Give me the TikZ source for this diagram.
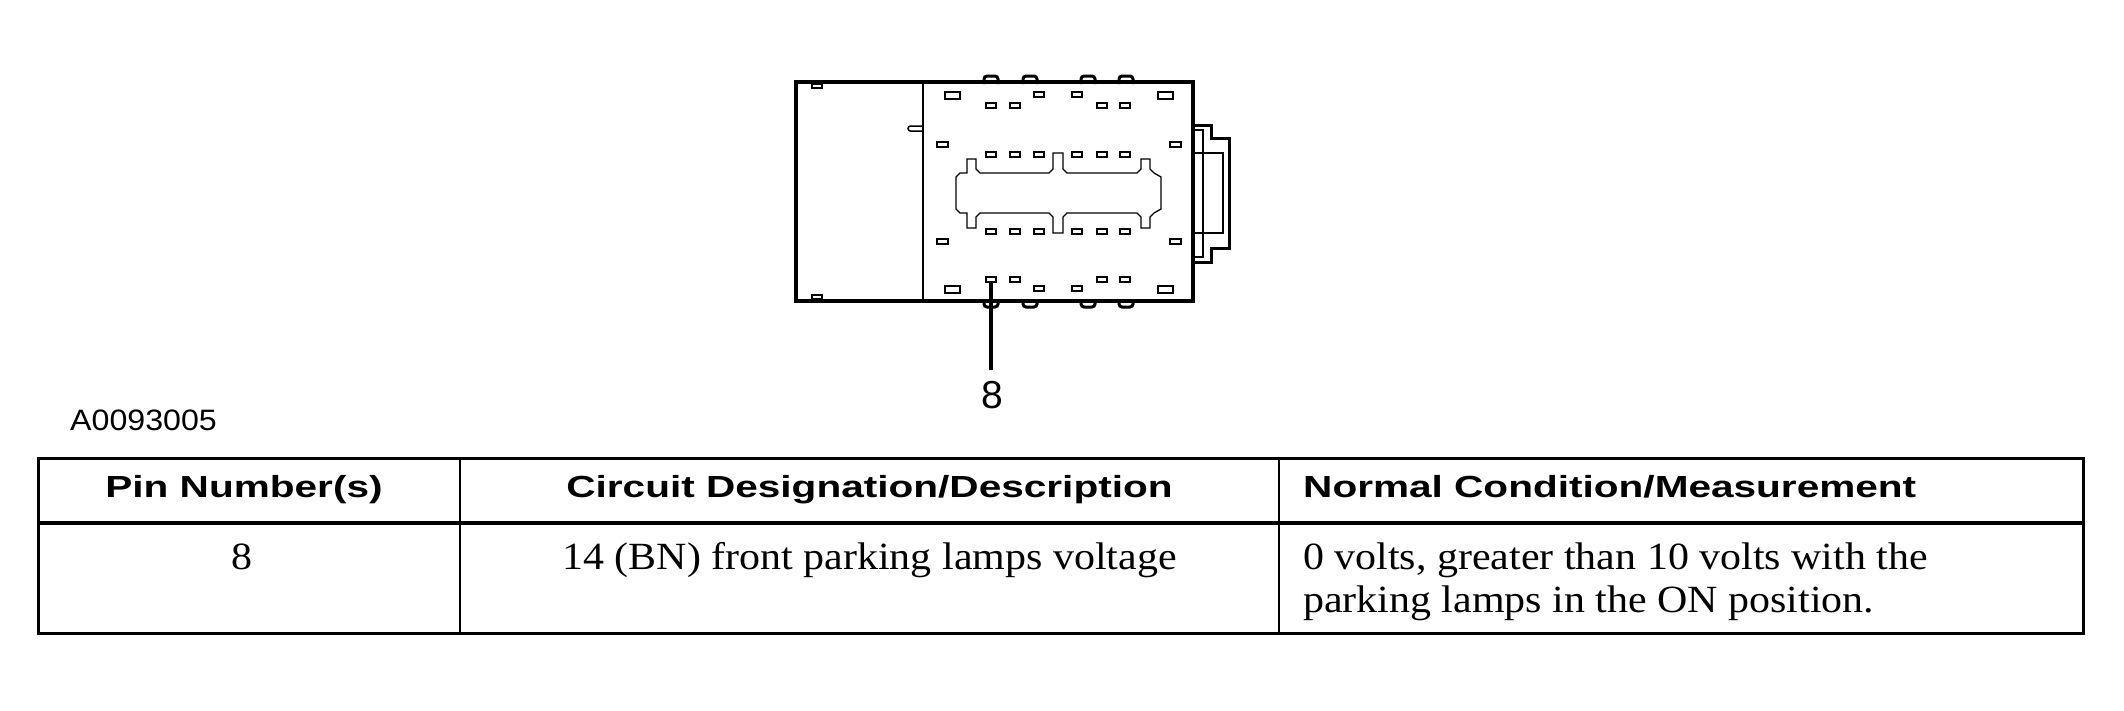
\documentclass[tikz,border=0pt]{standalone}
\usepackage{fontspec}
\newfontfamily\hdrfont[FakeStretch=1.33]{Liberation Sans}
\newfontfamily\codefont[FakeStretch=1.09]{Liberation Sans}
\newfontfamily\lblfont{Liberation Sans}
\newfontfamily\cellfont[FakeStretch=1.09]{Liberation Serif}

\begin{document}
\begin{tikzpicture}[x=1pt,y=-1pt,
  pinbox/.style={line width=2pt},
  latch/.style={line width=1.3pt},
  bump/.style={line width=3pt, rounded corners=3pt, fill=white},
  hdr/.style={font=\hdrfont\bfseries\fontsize{30.5}{36}\selectfont, anchor=base, inner sep=0pt},
  cell/.style={font=\cellfont\fontsize{38.5}{43}\selectfont, anchor=base, inner sep=0pt}]
\useasboundingbox (0,0) rectangle (2124,710);
%\draw[help lines] (0,0) grid (2124,710);
% connector body
\foreach \x in {991,1030,1088,1126} {
  \draw[bump] (\x-7,84) -- (\x-7,76) -- (\x+7,76) -- (\x+7,84);
  \draw[bump] (\x-7,299) -- (\x-7,307) -- (\x+7,307) -- (\x+7,299);
}
\draw[line width=4pt] (796,82) rectangle (1193,301);
\draw[line width=2pt] (923,82) -- (923,301);
\draw[line width=1.5pt] (812,84) rectangle (822,88) (812,295) rectangle (822,299);
\draw[line width=1.5pt, rounded corners=2.5pt] (923,126) -- (908,126) -- (908,131) -- (923,131);
% plug on the right
\draw[line width=3pt] (1193,125) -- (1211,125) -- (1211,138) -- (1229,138)
  -- (1229,248) -- (1211,248) -- (1211,262) -- (1193,262);
\draw[line width=1.2pt] (1195,130) -- (1203,130) -- (1203,257) -- (1195,257);
\draw[line width=1.2pt] (1195,153) -- (1223,153) -- (1223,233) -- (1195,233);
% pins
\foreach \x in {945,1158} {
  \draw[pinbox] (\x,92) rectangle (\x+15,99);
  \draw[pinbox] (\x,286) rectangle (\x+15,293);
}
\foreach \x in {1038.5,1077} {
  \draw[pinbox] (\x-5,92) rectangle (\x+5,97);
  \draw[pinbox] (\x-5,286) rectangle (\x+5,291);
}
\foreach \x in {991,1015,1102,1125} {
  \draw[pinbox] (\x-5,103) rectangle (\x+5,108);
  \draw[pinbox] (\x-5,277) rectangle (\x+5,282);
}
\foreach \x in {991,1015,1038.5,1077,1102,1125} {
  \draw[pinbox] (\x-5,152) rectangle (\x+5,157);
  \draw[pinbox] (\x-5,229) rectangle (\x+5,234);
}
\foreach \x in {942.5,1175.5} {
  \draw[pinbox] (\x-5.5,142) rectangle (\x+5.5,147);
  \draw[pinbox] (\x-5.5,239) rectangle (\x+5.5,244);
}
% latch
\draw[latch] (956,177) -- (956,209) -- (960,213) -- (967,213) -- (967,228) -- (976,228)
  -- (976,217) -- (980,213) -- (1049,213) -- (1053,217) -- (1053,233) -- (1063,233)
  -- (1063,217) -- (1067,213) -- (1137,213) -- (1141,217) -- (1141,228) -- (1150,228)
  -- (1150,217) -- (1154,213) -- (1161,209) -- (1161,177) -- (1154,173) -- (1150,169)
  -- (1150,159) -- (1141,159) -- (1141,169) -- (1137,173) -- (1067,173) -- (1063,169)
  -- (1063,153) -- (1053,153) -- (1053,169) -- (1049,173) -- (980,173) -- (976,169)
  -- (976,159) -- (967,159) -- (967,173) -- (960,173) -- cycle;
% pin 8 callout
\coordinate (pin8) at (991,282);
\node (lbl8) [font=\lblfont\fontsize{39}{44}\selectfont, anchor=base, inner sep=0pt] at (992,408) {8};
\draw[line width=3.5pt, shorten >=11pt] (pin8) -- (pin8 |- lbl8.north);
\node (figid) [font=\codefont\fontsize{29.5}{34}\selectfont, anchor=base west, inner sep=0pt] at (70,430) {A0093005};
% table
\draw[line width=3pt] (38,458) rectangle (2083,633);
\draw[line width=4pt] (38,523) -- (2083,523);
\draw[line width=2pt] (460,458) -- (460,633) (1279,458) -- (1279,633);
\node (hpin) [hdr] at (244,497) {Pin Number(s)};
\node (hcirc) [hdr] at (869.5,497) {Circuit Designation/Description};
\node (hnorm) [hdr, anchor=base west] at (1303,497) {Normal Condition/Measurement};
\node (cpin) [cell] at (242,569) {8};
\node (ccirc) [cell] at (869.5,569) {14 (BN) front parking lamps voltage};
\node (cnorma) [cell, anchor=base west] at (1303,569) {0 volts, greater than 10 volts with the};
\node (cnormb) [cell, anchor=base west] at (1303,612) {parking lamps in the ON position.};
\end{tikzpicture}
\end{document}
